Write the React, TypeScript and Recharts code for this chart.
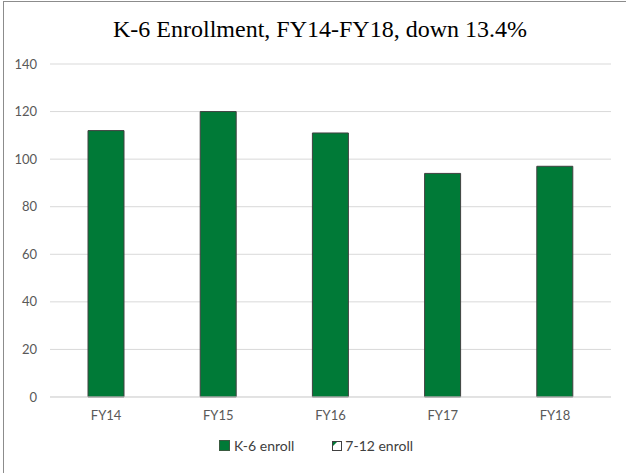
import React from "react";
import { BarChart, Bar, XAxis, YAxis, CartesianGrid, Legend } from "recharts";

const categories = ["FY14", "FY15", "FY16", "FY17", "FY18"];
const k6Enroll = [112, 120, 111, 94, 97];
const seriesNames = ["K-6 enroll", "7-12 enroll"];
const yTicks = [0, 20, 40, 60, 80, 100, 120, 140];
const titleText = "K-6 Enrollment, FY14-FY18, down 13.4%";

const data = categories.map((c, i) => ({ name: c, k6: k6Enroll[i] }));

const GREEN = "#007A37";
const AXIS_FONT = "Lato, 'Open Sans', sans-serif";

function LegendContent() {
  return (
    <div
      style={{
        display: "flex",
        justifyContent: "center",
        alignItems: "center",
        fontFamily: AXIS_FONT,
        fontSize: 14,
        color: "#404040",
        paddingLeft: 6,
      }}
    >
      <span style={{ display: "flex", alignItems: "center", marginRight: 38 }}>
        <span
          style={{
            display: "inline-block",
            width: 9,
            height: 9,
            background: GREEN,
            border: "1px solid #3a5a40",
            marginRight: 4,
          }}
        />
        {seriesNames[0]}
      </span>
      <span style={{ display: "flex", alignItems: "center" }}>
        <span
          style={{
            display: "inline-block",
            width: 8,
            height: 8,
            background: "#fff",
            border: "1px solid #404040",
            marginRight: 3,
            position: "relative",
          }}
        >
          <span
            style={{
              position: "absolute",
              left: 0,
              top: 0,
              width: 0,
              height: 0,
              borderTop: "4px solid " + GREEN,
              borderRight: "4px solid transparent",
            }}
          />
        </span>
        {seriesNames[1]}
      </span>
    </div>
  );
}

export default function App() {
  return (
    <div
      style={{
        position: "absolute",
        left: 0,
        top: 0,
        width: 626,
        height: 473,
        background: "#fff",
        overflow: "hidden",
      }}
    >
      <div
        style={{
          position: "absolute",
          left: 3,
          top: 1,
          width: 640,
          height: 480,
          borderTop: "1px solid #8c8c8c",
          borderLeft: "1px solid #8c8c8c",
        }}
      />
      <div
        style={{
          position: "absolute",
          left: 0,
          top: 16,
          width: 640,
          textAlign: "center",
          fontFamily: "'Liberation Serif', 'DejaVu Serif', serif",
          fontSize: 24,
          color: "#000",
          whiteSpace: "nowrap",
        }}
      >
        {titleText}
      </div>
      <div style={{ position: "absolute", left: 0, top: 0 }}>
        <BarChart
          width={626}
          height={473}
          data={data}
          margin={{ top: 64, right: 15, left: 0, bottom: 46 }}
        >
          <CartesianGrid vertical={false} stroke="#d9d9d9" />
          <XAxis
            dataKey="name"
            height={30}
            tickLine={false}
            tickSize={0}
            tickMargin={14}
            axisLine={{ stroke: "#d9d9d9" }}
            tick={{ fill: "#595959", fontSize: 13, fontFamily: AXIS_FONT }}
          />
          <YAxis
            width={50}
            domain={[0, 140]}
            ticks={yTicks}
            tickLine={false}
            tickSize={0}
            tickMargin={13}
            axisLine={false}
            tick={{ fill: "#595959", fontSize: 13, fontFamily: AXIS_FONT }}
          />
          <Legend
            verticalAlign="middle"
            align="center"
            layout="horizontal"
            wrapperStyle={{ top: 437, left: 0, width: 626 }}
            content={<LegendContent />}
          />
          <Bar
            dataKey="k6"
            name={seriesNames[0]}
            fill={GREEN}
            stroke="#404040"
            strokeWidth={1}
            barSize={36}
            isAnimationActive={false}
          />
        </BarChart>
      </div>
    </div>
  );
}
